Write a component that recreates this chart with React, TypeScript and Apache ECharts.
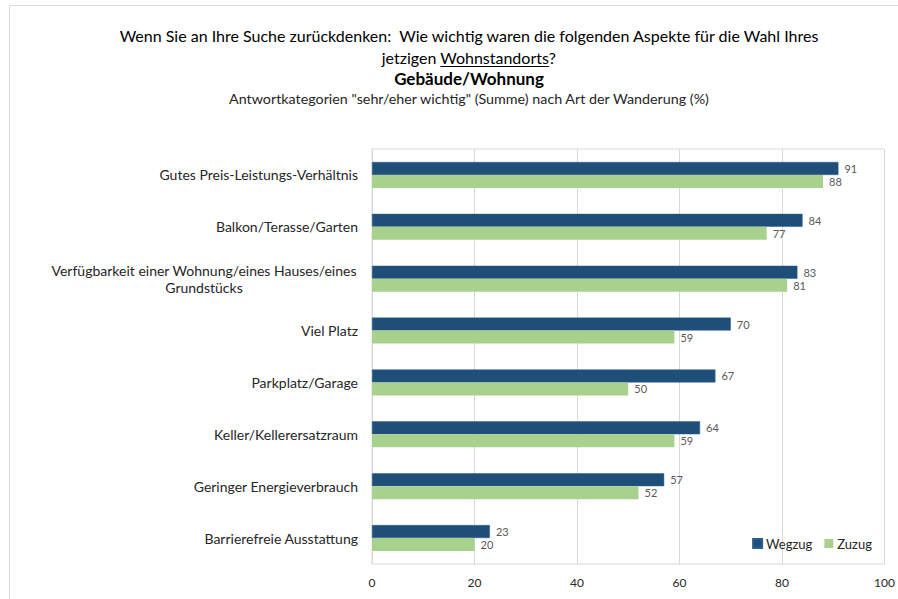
import React, { useEffect, useRef } from "react";
import * as echarts from "echarts";

const titleLine1 = "Wenn Sie an Ihre Suche zurückdenken:  Wie wichtig waren die folgenden Aspekte für die Wahl Ihres";
const titleLine2a = "jetzigen ";
const titleLine2b = "Wohnstandorts";
const titleLine2c = "?";
const titleLine3 = "Gebäude/Wohnung";
const subtitle = 'Antwortkategorien "sehr/eher wichtig" (Summe) nach Art der Wanderung (%)';

const categories = [
  "Gutes Preis-Leistungs-Verhältnis",
  "Balkon/Terasse/Garten",
  "Verfügbarkeit einer Wohnung/eines Hauses/eines\nGrundstücks",
  "Viel Platz",
  "Parkplatz/Garage",
  "Keller/Kellerersatzraum",
  "Geringer Energieverbrauch",
  "Barrierefreie Ausstattung",
];
const seriesNames = ["Wegzug", "Zuzug"];
const wegzug = [91, 84, 83, 70, 67, 64, 57, 23];
const zuzug = [88, 77, 81, 59, 50, 59, 52, 20];
const xMin = 0;
const xMax = 100;
const xInterval = 20;

const FONT = "Lato, 'Noto Sans', sans-serif";

function measure(text: string, font: string): number {
  const c = document.createElement("canvas").getContext("2d");
  if (!c) return text.length * 7;
  c.font = font;
  return c.measureText(text).width;
}

export default function App() {
  const ref = useRef<HTMLDivElement>(null);
  useEffect(() => {
    if (!ref.current) return;
    const chart = echarts.init(ref.current, undefined, { renderer: "svg" });

    const titleSize = 16;
    const cx = 469;
    const t2font = `${titleSize}px Lato`;
    const wA = measure(titleLine2a, t2font);
    const wB = measure(titleLine2b, t2font);
    const wC = measure(titleLine2c, t2font);
    const total = wA + wB + wC;
    const x2start = cx - total / 2;

    const labelSize = 14;
    const wrapWidth = Math.ceil(
      measure(categories[2].split("\n")[0], `${labelSize}px Lato`)
    ) + 2;

    const titleStyle = { fontFamily: FONT, fontSize: titleSize, fill: "#000000" };

    chart.setOption({
      animation: false,
      backgroundColor: "#ffffff",
      textStyle: { fontFamily: FONT },
      graphic: [
        {
          type: "rect",
          silent: true,
          shape: { x: 9.5, y: 5.5, width: 1000, height: 1000 },
          style: { fill: "none", stroke: "#d9d9d9", lineWidth: 1 },
        },
        {
          type: "text",
          x: cx,
          y: 35,
          style: { ...titleStyle, text: titleLine1, textAlign: "center", textVerticalAlign: "middle" },
        },
        {
          type: "text",
          x: x2start,
          y: 57,
          style: { ...titleStyle, text: titleLine2a + titleLine2b + titleLine2c, textAlign: "left", textVerticalAlign: "middle" },
        },
        {
          type: "line",
          shape: { x1: x2start + wA, y1: 66.5, x2: x2start + wA + wB, y2: 66.5 },
          style: { stroke: "#000000", lineWidth: 1 },
        },
        {
          type: "text",
          x: cx,
          y: 78,
          style: { ...titleStyle, fontSize: 17, text: titleLine3, fontWeight: "bold", textAlign: "center", textVerticalAlign: "middle" },
        },
        {
          type: "text",
          x: cx,
          y: 98,
          style: { fontFamily: FONT, fontSize: 14.3, fill: "#262626", text: subtitle, textAlign: "center", textVerticalAlign: "middle" },
        },
      ],
      legend: {
        data: seriesNames,
        right: 21,
        top: 532,
        icon: "rect",
        itemWidth: 9,
        itemHeight: 9,
        itemGap: 12,
        textStyle: { fontFamily: FONT, fontSize: 13, color: "#262626", padding: [0, 0, 0, -1] },
      },
      grid: {
        left: 372,
        right: 11,
        top: 149,
        bottom: 35,
        show: true,
        borderColor: "#d9d9d9",
        borderWidth: 1,
        containLabel: false,
      },
      xAxis: {
        type: "value",
        min: xMin,
        max: xMax,
        interval: xInterval,
        axisLine: { show: false },
        axisTick: { show: false },
        splitLine: { show: true, lineStyle: { color: "#d9d9d9", width: 1 } },
        axisLabel: { fontFamily: FONT, fontSize: 12, color: "#262626", margin: 12 },
      },
      yAxis: {
        type: "category",
        data: categories,
        inverse: true,
        axisLine: { show: false },
        axisTick: { show: false },
        splitLine: { show: false },
        axisLabel: {
          fontFamily: FONT,
          fontSize: labelSize,
          color: "#262626",
          margin: 14,
          lineHeight: 17,
          formatter: (v: string) => {
            if (v.indexOf("\n") >= 0) {
              return v.split("\n").map((s) => `{c|${s}}`).join("\n");
            }
            return v;
          },
          rich: {
            c: {
              width: wrapWidth,
              align: "center",
              fontFamily: FONT,
              fontSize: labelSize,
              color: "#262626",
              lineHeight: 17,
            },
          },
        },
      },
      series: [
        {
          name: seriesNames[0],
          type: "bar",
          data: wegzug,
          barGap: "0%",
          barCategoryGap: "50%",
          itemStyle: { color: "#1f4e79", borderColor: "#2e5f8c", borderWidth: 0.5 },
          label: { show: true, position: "right", distance: 6, fontFamily: FONT, fontSize: 11, color: "#595959" },
        },
        {
          name: seriesNames[1],
          type: "bar",
          data: zuzug,
          barGap: "0%",
          barCategoryGap: "50%",
          itemStyle: { color: "#a9d18e" },
          label: { show: true, position: "right", distance: 6, fontFamily: FONT, fontSize: 11, color: "#595959" },
        },
      ],
    });
    return () => chart.dispose();
  }, []);
  return (
    <div
      ref={ref}
      style={{ position: "fixed", left: 0, top: 0, width: 898, height: 599 }}
    />
  );
}
